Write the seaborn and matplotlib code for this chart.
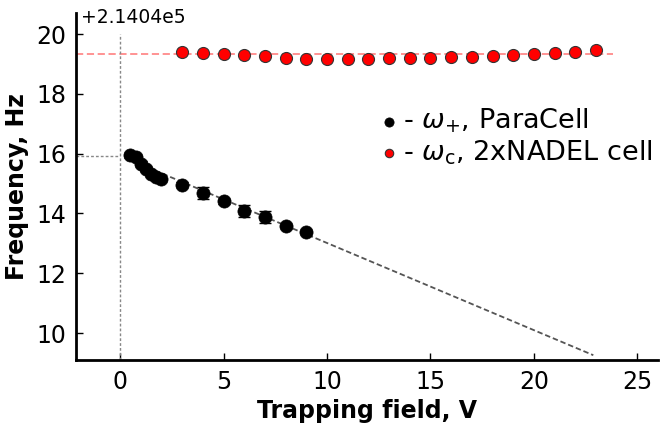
import numpy as np
import pandas as pd
import matplotlib
matplotlib.use("Agg")
import matplotlib.pyplot as plt
import seaborn as sns

OFFSET = 214040.0

# omega_+ , ParaCell (black)
para_x = [0.5, 0.75, 1.0, 1.25, 1.5, 1.75, 2.0, 3, 4, 5, 6, 7, 8, 9]
para_y = [15.96, 15.90, 15.66, 15.48, 15.32, 15.23, 15.14, 14.96, 14.68, 14.40, 14.08, 13.87, 13.59, 13.38]
para_err = [0.05, 0.05, 0.08, 0.06, 0.05, 0.05, 0.05, 0.08, 0.20, 0.08, 0.20, 0.20, 0.07, 0.07]

# omega_c , 2xNADEL cell (red)
nadel_x = list(range(3, 24))
nadel_y = [19.39, 19.37, 19.33, 19.29, 19.26, 19.20, 19.17, 19.16, 19.16, 19.16, 19.19,
           19.20, 19.21, 19.22, 19.24, 19.26, 19.31, 19.34, 19.35, 19.41, 19.47]

# fitted lines
fit_x = [0.2, 22.87]
fit_y = [15.87, 9.26]
red_level = 19.33
red_x = [-2.13, 23.8]
f0 = 15.93

x_ticks = [0, 5, 10, 15, 20, 25]
y_ticks = [10, 12, 14, 16, 18, 20]

sns.set_style("ticks", {"axes.edgecolor": "black", "text.color": "black",
                        "xtick.color": "black", "ytick.color": "black",
                        "axes.labelcolor": "black"})
plt.rcParams['font.family'] = ['DejaVu Sans']
plt.rcParams['mathtext.fontset'] = 'dejavusans'

fig = plt.figure(figsize=(6.63, 4.23), dpi=100)
ax = fig.add_axes([0.1146, 0.149, 0.878, 0.82])

df_p = pd.DataFrame({"x": para_x, "y": np.array(para_y) + OFFSET})
df_n = pd.DataFrame({"x": nadel_x, "y": np.array(nadel_y) + OFFSET})

# reference lines
ax.plot(red_x, [red_level + OFFSET] * 2, color="#ff8a8a", ls=(0, (4, 2)), lw=1.3, zorder=1)
ax.plot(fit_x, np.array(fit_y) + OFFSET, color="#555555", ls=(0, (3, 1.6)), lw=1.3, zorder=1)
ax.plot([0, 0], [9.1 + OFFSET, 20.0 + OFFSET], color="#888888", ls=(0, (2, 1.5)), lw=1.0, zorder=1)
ax.plot([-2.13, 0], [f0 + OFFSET] * 2, color="#888888", ls=(0, (2, 1.5)), lw=1.0, zorder=1)

ax.errorbar(para_x, np.array(para_y) + OFFSET, yerr=para_err, fmt="none",
            ecolor="black", elinewidth=1, capsize=4, capthick=1, zorder=2)
sns.scatterplot(data=df_p, x="x", y="y", ax=ax, color="black", s=90,
                edgecolor="black", linewidth=0.5, zorder=3,
                label=r"- $\omega_{+}$, ParaCell")
sns.scatterplot(data=df_n, x="x", y="y", ax=ax, color="#ff0000", s=75,
                edgecolor="#333333", linewidth=0.8, zorder=3,
                label=r"- $\omega_{\mathrm{c}}$, 2xNADEL cell")

ax.set_xlim(-2.13, 26.0)
ax.set_ylim(9.1 + OFFSET, 20.7 + OFFSET)
ax.set_xticks(x_ticks)
ax.set_yticks(np.array(y_ticks) + OFFSET)
fmt = ax.yaxis.get_major_formatter()
fmt.set_useOffset(OFFSET)

for s in ["top", "right"]:
    ax.spines[s].set_visible(False)
for s in ["left", "bottom"]:
    ax.spines[s].set_linewidth(2)
ax.tick_params(direction="in", length=5, width=1, labelsize=17, pad=7)

ax.set_xlabel("Trapping field, V", fontsize=17, fontweight="bold", labelpad=4)
ax.set_ylabel("Frequency, Hz", fontsize=17, fontweight="bold", labelpad=5)

leg = ax.legend(loc="center left", bbox_to_anchor=(0.515, 0.643), frameon=False, fontsize=19.5,
                markerscale=0.7, handletextpad=0.0, handlelength=1.0, labelspacing=0.12,
                borderaxespad=0, borderpad=0)

# offset label, placed inside the top-left corner like the reference
fig.canvas.draw()
off = fmt.get_offset()
ax.yaxis.get_offset_text().set_visible(False)
ax.text(0.008, 0.972, off, transform=ax.transAxes, fontsize=13.5,
        ha="left", va="baseline", color="black")

fig.savefig("out.png", dpi=100)
